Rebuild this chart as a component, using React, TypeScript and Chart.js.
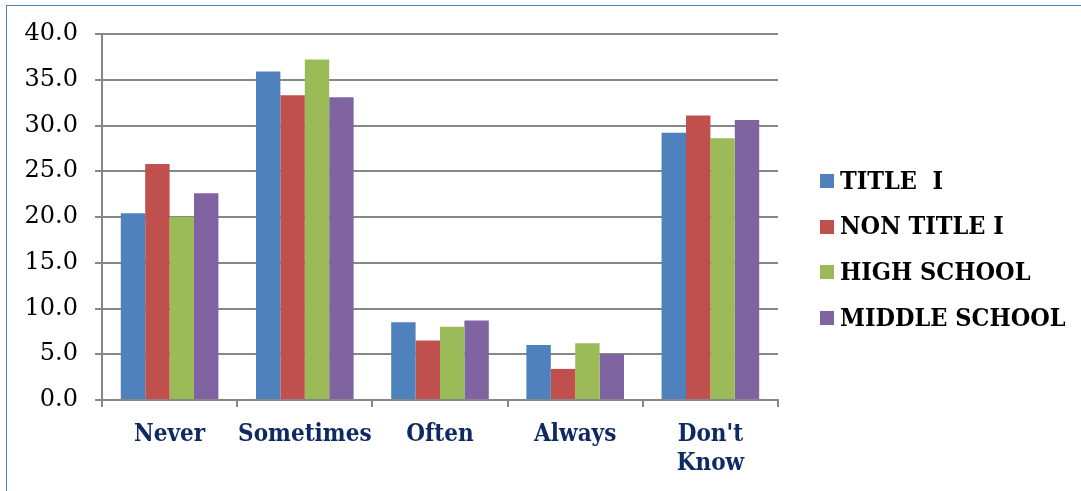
import { useEffect, useRef } from 'react';
import { Chart, registerables } from 'chart.js';

Chart.register(...registerables);

// Survey responses (percent) by school group
const categories: (string | string[])[] = ['Never', 'Sometimes', 'Often', 'Always', ["Don't", 'Know']];
const titleI = [20.4, 35.9, 8.5, 6.0, 29.2];
const nonTitleI = [25.8, 33.3, 6.5, 3.4, 31.1];
const highSchool = [20.0, 37.2, 8.0, 6.2, 28.6];
const middleSchool = [22.6, 33.1, 8.7, 5.0, 30.6];
const seriesNames = ['TITLE  I', 'NON TITLE I', 'HIGH SCHOOL', 'MIDDLE SCHOOL'];
const seriesColors = ['#4F81BD', '#C0504D', '#9BBB59', '#8064A2'];
const yMin = 0;
const yMax = 40;
const yStep = 5;

const LABEL_FONT = "'DejaVu Serif Condensed', 'DejaVu Serif', serif";
const TICK_FONT = "'DejaVu Serif', serif";
const AXIS_GRAY = '#878787';

// Legend drawn in the space right of the plot
const sideLegend = {
  id: 'sideLegend',
  afterDraw(chart: any) {
    const ctx = chart.ctx as CanvasRenderingContext2D;
    ctx.save();
    ctx.font = `bold 25px ${LABEL_FONT}`;
    ctx.textBaseline = 'middle';
    ctx.textAlign = 'left';
    chart.data.datasets.forEach((ds: any, i: number) => {
      const y = 181 + i * 45.7;
      ctx.fillStyle = ds.backgroundColor;
      ctx.fillRect(820, Math.round(y - 7), 14, 14);
      ctx.fillStyle = '#000';
      ctx.fillText(ds.label, 840, y + 1);
    });
    ctx.restore();
  },
};

export default function App() {
  const ref = useRef<HTMLCanvasElement>(null);

  useEffect(() => {
    if (!ref.current) return;
    const series = [titleI, nonTitleI, highSchool, middleSchool];
    const chart = new Chart(ref.current, {
      type: 'bar',
      data: {
        labels: categories,
        datasets: series.map((values, i) => ({
          label: seriesNames[i],
          data: values,
          backgroundColor: seriesColors[i],
          borderWidth: 0,
          categoryPercentage: 0.722,
          barPercentage: 1,
        })),
      },
      options: {
        responsive: false,
        animation: false,
        layout: { padding: { top: 34, right: 303, bottom: 0, left: 0 } },
        plugins: {
          legend: { display: false },
          tooltip: { enabled: false },
        },
        scales: {
          x: {
            grid: {
              display: true,
              drawOnChartArea: false,
              drawTicks: true,
              tickLength: 7,
              color: AXIS_GRAY,
              lineWidth: 2,
              offset: true,
            },
            border: { display: true, color: AXIS_GRAY, width: 2 },
            ticks: {
              color: '#0F2A62',
              font: { family: LABEL_FONT, size: 24, weight: 'bold', lineHeight: 1.21 },
              padding: 13,
              maxRotation: 0,
              autoSkip: false,
            },
            afterFit: (s: any) => {
              s.height = 91;
            },
          },
          y: {
            min: yMin,
            max: yMax,
            ticks: {
              stepSize: yStep,
              callback: (v: any) => Number(v).toFixed(1),
              color: '#000',
              font: { family: TICK_FONT, size: 24 },
              padding: 17,
            },
            grid: { color: AXIS_GRAY, lineWidth: 2, tickLength: 7 },
            border: { display: true, color: AXIS_GRAY, width: 2 },
            afterFit: (s: any) => {
              s.width = 102;
            },
          },
        },
      },
      plugins: [sideLegend],
    });
    return () => chart.destroy();
  }, []);

  return (
    <div
      style={{
        position: 'fixed',
        left: 0,
        top: 0,
        width: 1081,
        height: 491,
        background: '#fff',
        overflow: 'hidden',
      }}
    >
      <div
        style={{
          position: 'absolute',
          left: 6,
          top: 5,
          width: 1100,
          height: 520,
          borderTop: '1.5px solid #4F81BD',
          borderLeft: '1.5px solid #4F81BD',
        }}
      />
      <canvas
        ref={ref}
        width={1081}
        height={491}
        style={{ position: 'absolute', left: 0, top: 0, width: 1081, height: 491 }}
      />
    </div>
  );
}
